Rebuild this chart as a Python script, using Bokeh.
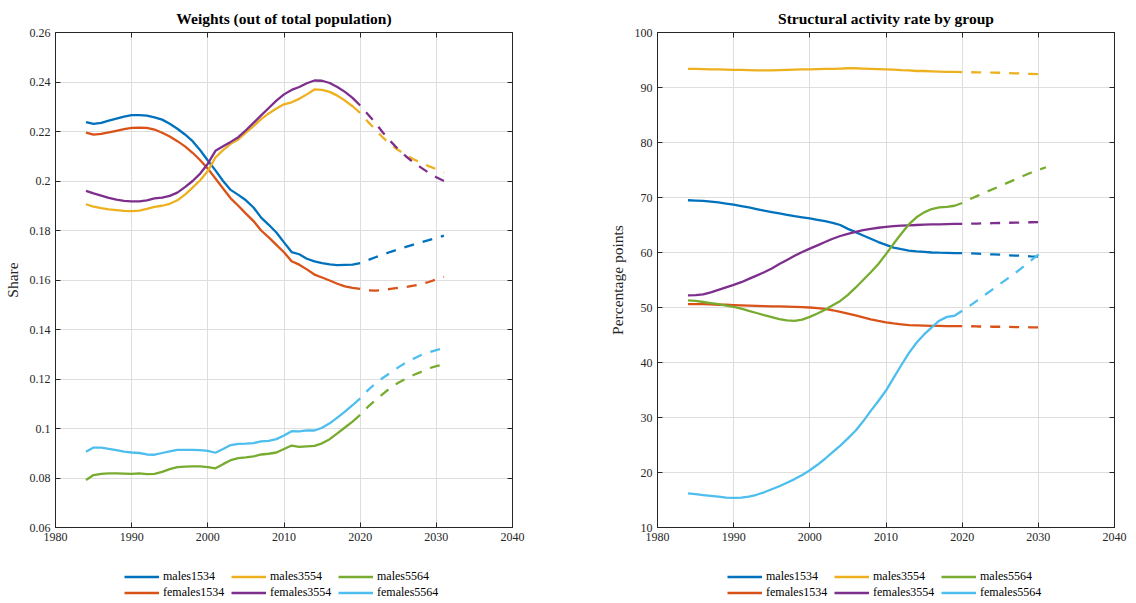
from bokeh.plotting import figure
from bokeh.layouts import row, column
from bokeh.models import (FixedTicker, LinearAxis, Legend, LegendItem, Range1d,
                          CustomJSTickFormatter)
from bokeh.embed import file_html
from bokeh.resources import INLINE

# ---------------- data ----------------
years_hist = list(range(1984, 2021))
years_proj = list(range(2020, 2032))

series_names = ["males1534", "females1534", "males3554", "females3554", "males5564", "females5564"]
series_colors = ["#0072BD", "#D95319", "#EDB120", "#7E2F8E", "#77AC30", "#4DBEEE"]

# Left panel: weights (share of total population)
w_males1534 = [0.2238, 0.2231, 0.2235, 0.2244, 0.2252, 0.2260, 0.2266, 0.2266, 0.2264, 0.2257,
               0.2248, 0.2231, 0.2211, 0.2188, 0.2161, 0.2124, 0.2083, 0.2043, 0.2000, 0.1964,
               0.1944, 0.1922, 0.1893, 0.1852, 0.1823, 0.1792, 0.1752, 0.1713, 0.1704, 0.1686,
               0.1675, 0.1668, 0.1663, 0.1660, 0.1661, 0.1662, 0.1668]
w_males1534_p = [0.1668, 0.1680, 0.1692, 0.1703, 0.1714, 0.1724, 0.1734, 0.1743, 0.1752, 0.1761, 0.1770, 0.1779]

w_females1534 = [0.2195, 0.2187, 0.2190, 0.2196, 0.2203, 0.2210, 0.2215, 0.2216, 0.2215, 0.2208,
                 0.2195, 0.2180, 0.2161, 0.2140, 0.2114, 0.2084, 0.2050, 0.2010, 0.1970, 0.1930,
                 0.1900, 0.1868, 0.1838, 0.1800, 0.1772, 0.1742, 0.1712, 0.1676, 0.1662, 0.1643,
                 0.1622, 0.1610, 0.1598, 0.1585, 0.1574, 0.1568, 0.1564]
w_females1534_p = [0.1564, 0.1558, 0.1557, 0.1560, 0.1564, 0.1568, 0.1572, 0.1577, 0.1583, 0.1592, 0.1602, 0.1613]

w_males3554 = [0.1906, 0.1896, 0.1890, 0.1885, 0.1882, 0.1879, 0.1878, 0.1880, 0.1887, 0.1895,
               0.1900, 0.1908, 0.1922, 0.1945, 0.1973, 0.2003, 0.2040, 0.2095, 0.2125, 0.2150,
               0.2168, 0.2195, 0.2222, 0.2250, 0.2273, 0.2293, 0.2310, 0.2318, 0.2332, 0.2350,
               0.2370, 0.2368, 0.2360, 0.2345, 0.2325, 0.2302, 0.2275]
w_males3554_p = [0.2275, 0.2240, 0.2208, 0.2175, 0.2148, 0.2125, 0.2105, 0.2088, 0.2073, 0.2060, 0.2048, 0.2034]

w_females3554 = [0.1960, 0.1950, 0.1941, 0.1932, 0.1925, 0.1920, 0.1918, 0.1918, 0.1922, 0.1930,
                 0.1933, 0.1940, 0.1953, 0.1975, 0.2000, 0.2030, 0.2070, 0.2122, 0.2140, 0.2158,
                 0.2177, 0.2205, 0.2235, 0.2265, 0.2295, 0.2325, 0.2350, 0.2368, 0.2380, 0.2395,
                 0.2406, 0.2405, 0.2396, 0.2380, 0.2360, 0.2336, 0.2305]
w_females3554_p = [0.2305, 0.2270, 0.2235, 0.2195, 0.2160, 0.2128, 0.2100, 0.2075, 0.2054, 0.2033, 0.2015, 0.2000]

w_males5564 = [0.0792, 0.0812, 0.0817, 0.0819, 0.0819, 0.0818, 0.0817, 0.0819, 0.0816, 0.0817,
               0.0825, 0.0836, 0.0844, 0.0846, 0.0847, 0.0847, 0.0844, 0.0839, 0.0856, 0.0872,
               0.0880, 0.0883, 0.0887, 0.0895, 0.0898, 0.0903, 0.0917, 0.0931, 0.0926, 0.0928,
               0.0930, 0.0940, 0.0957, 0.0980, 0.1004, 0.1028, 0.1055]
w_males5564_p = [0.1055, 0.1087, 0.1114, 0.1140, 0.1165, 0.1185, 0.1201, 0.1216, 0.1229, 0.1243, 0.1252, 0.1259]

w_females5564 = [0.0906, 0.0923, 0.0923, 0.0918, 0.0913, 0.0907, 0.0903, 0.0901, 0.0895, 0.0894,
                 0.0901, 0.0908, 0.0914, 0.0914, 0.0914, 0.0913, 0.0910, 0.0902, 0.0917, 0.0933,
                 0.0938, 0.0939, 0.0941, 0.0948, 0.0950, 0.0957, 0.0972, 0.0989, 0.0988, 0.0992,
                 0.0992, 0.1003, 0.1021, 0.1044, 0.1068, 0.1094, 0.1122]
w_females5564_p = [0.1122, 0.1154, 0.1182, 0.1205, 0.1225, 0.1247, 0.1266, 0.1282, 0.1297, 0.1308, 0.1317, 0.1325]

# Right panel: structural activity rate (percentage points)
a_males1534 = [69.5, 69.45, 69.4, 69.25, 69.1, 68.9, 68.7, 68.45, 68.2, 67.9,
               67.6, 67.35, 67.1, 66.85, 66.6, 66.4, 66.2, 65.95, 65.7, 65.4,
               65.0, 64.3, 63.7, 63.1, 62.5, 61.9, 61.4, 60.9, 60.6, 60.35,
               60.2, 60.1, 60.0, 59.97, 59.95, 59.9, 59.9]
a_males1534_p = [59.9, 59.85, 59.8, 59.7, 59.65, 59.6, 59.5, 59.45, 59.4, 59.3, 59.25, 59.2]

a_females1534 = [50.6, 50.6, 50.6, 50.55, 50.5, 50.5, 50.45, 50.4, 50.35, 50.3,
                 50.25, 50.2, 50.2, 50.15, 50.1, 50.05, 50.0, 49.9, 49.75, 49.5,
                 49.2, 48.9, 48.55, 48.2, 47.85, 47.55, 47.3, 47.1, 46.95, 46.8,
                 46.75, 46.7, 46.65, 46.65, 46.6, 46.6, 46.6]
a_females1534_p = [46.6, 46.6, 46.55, 46.55, 46.5, 46.5, 46.5, 46.45, 46.45, 46.4, 46.4, 46.4]

a_males3554 = [93.4, 93.4, 93.35, 93.3, 93.3, 93.25, 93.2, 93.2, 93.15, 93.1,
               93.1, 93.1, 93.15, 93.2, 93.25, 93.3, 93.3, 93.35, 93.4, 93.4,
               93.45, 93.5, 93.5, 93.45, 93.4, 93.35, 93.3, 93.25, 93.15, 93.1,
               93.0, 93.0, 92.95, 92.9, 92.85, 92.85, 92.8]
a_males3554_p = [92.8, 92.78, 92.75, 92.72, 92.7, 92.68, 92.62, 92.58, 92.52, 92.48, 92.42, 92.38]

a_females3554 = [52.2, 52.25, 52.4, 52.75, 53.2, 53.65, 54.1, 54.6, 55.2, 55.8,
                 56.4, 57.1, 57.9, 58.65, 59.4, 60.1, 60.7, 61.3, 61.9, 62.5,
                 63.0, 63.4, 63.75, 64.05, 64.3, 64.5, 64.65, 64.8, 64.9, 64.95,
                 65.0, 65.05, 65.1, 65.1, 65.15, 65.2, 65.2]
a_females3554_p = [65.2, 65.23, 65.26, 65.3, 65.33, 65.36, 65.4, 65.43, 65.46, 65.5, 65.53, 65.55]

a_males5564 = [51.3, 51.2, 51.0, 50.8, 50.6, 50.35, 50.1, 49.8, 49.4, 49.0,
               48.6, 48.25, 47.9, 47.65, 47.55, 47.8, 48.3, 48.9, 49.6, 50.4,
               51.2, 52.3, 53.6, 55.0, 56.4, 57.9, 59.7, 61.6, 63.4, 65.1,
               66.4, 67.3, 67.9, 68.2, 68.3, 68.5, 69.0]
a_males5564_p = [69.0, 69.7, 70.3, 70.9, 71.5, 72.1, 72.7, 73.3, 73.9, 74.5, 75.0, 75.5]

a_females5564 = [16.2, 16.05, 15.9, 15.75, 15.6, 15.45, 15.4, 15.45, 15.6, 15.95,
                 16.4, 16.95, 17.5, 18.15, 18.8, 19.55, 20.4, 21.4, 22.5, 23.7,
                 24.9, 26.2, 27.6, 29.3, 31.2, 33.0, 34.9, 37.2, 39.5, 41.7,
                 43.6, 45.1, 46.4, 47.6, 48.3, 48.5, 49.4]
a_females5564_p = [49.4, 50.3, 51.3, 52.3, 53.3, 54.3, 55.3, 56.3, 57.4, 58.5, 59.6, 60.6]

x_ticks = [1980, 1990, 2000, 2010, 2020, 2030, 2040]
w_ticks = [0.06, 0.08, 0.10, 0.12, 0.14, 0.16, 0.18, 0.20, 0.22, 0.24, 0.26]
a_ticks = [10, 20, 30, 40, 50, 60, 70, 80, 90, 100]

w_hist = [w_males1534, w_females1534, w_males3554, w_females3554, w_males5564, w_females5564]
w_proj = [w_males1534_p, w_females1534_p, w_males3554_p, w_females3554_p, w_males5564_p, w_females5564_p]
a_hist = [a_males1534, a_females1534, a_males3554, a_females3554, a_males5564, a_females5564]
a_proj = [a_males1534_p, a_females1534_p, a_males3554_p, a_females3554_p, a_males5564_p, a_females5564_p]

# ---------------- styling ----------------
FONT = "Liberation Serif"
AX = "#262626"
GRID = "#dedede"
LW = 2.3
FIG_W = 568
MAIN_BOTTOM = 25
LEG_H = 51


def make_panel(title, ylabel, yr, yticks, hist, proj, left_b, right_b, fmt_code):
    p = figure(frame_width=457, frame_height=495, min_border_left=left_b,
               min_border_right=right_b, min_border_top=32, min_border_bottom=MAIN_BOTTOM,
               x_range=Range1d(1980, 2040), y_range=Range1d(*yr),
               output_backend="svg", toolbar_location=None, title=title)
    p.title.text_font = FONT
    p.title.text_font_size = "15.5px"
    p.title.text_font_style = "bold"
    p.title.text_color = "#000000"
    p.title.align = "center"
    p.title.standoff = 12
    p.outline_line_color = AX
    p.outline_line_alpha = 1.0
    p.background_fill_color = "white"
    p.border_fill_color = "white"

    for ax in (p.xaxis[0], p.yaxis[0]):
        ax.major_tick_in = 5
        ax.major_tick_out = 0
        ax.minor_tick_in = 0
        ax.minor_tick_out = 0
        ax.axis_line_color = AX
        ax.major_tick_line_color = AX
        ax.major_label_text_font = FONT
        ax.major_label_text_font_size = "12px"
        ax.major_label_text_color = AX
        ax.major_label_standoff = 5
        ax.axis_label_text_font = FONT
        ax.axis_label_text_font_size = "15.5px"
        ax.axis_label_text_font_style = "normal"
        ax.axis_label_text_color = AX
    p.xaxis[0].ticker = FixedTicker(ticks=x_ticks)
    p.yaxis[0].ticker = FixedTicker(ticks=yticks)
    p.yaxis[0].axis_label = ylabel
    p.yaxis[0].axis_label_standoff = 6
    if fmt_code:
        p.yaxis[0].formatter = CustomJSTickFormatter(code=fmt_code)

    for loc, tk in (("above", x_ticks), ("right", yticks)):
        ax2 = LinearAxis(ticker=FixedTicker(ticks=tk), major_label_text_font_size="1px",
                         major_label_text_color=None,
                         major_tick_in=5, major_tick_out=0, minor_tick_in=0, minor_tick_out=0,
                         axis_line_color=AX, major_tick_line_color=AX, major_label_standoff=0)
        p.add_layout(ax2, loc)

    p.xgrid.ticker = FixedTicker(ticks=x_ticks)
    p.ygrid.ticker = FixedTicker(ticks=yticks)
    p.xgrid.grid_line_color = GRID
    p.ygrid.grid_line_color = GRID

    for vals, pvals, col in zip(hist, proj, series_colors):
        p.line(years_hist, vals, line_color=col, line_width=LW)
        p.line(years_proj, pvals, line_color=col, line_width=LW, line_dash="10 9",
               line_dash_offset=10)
    return p


def make_legend_fig(hist, x_off):
    # legend strip under each panel; its view range lies away from the data,
    # so only the legend itself shows
    lf = figure(width=FIG_W, height=LEG_H, min_border=0, x_range=Range1d(0, 1),
                y_range=Range1d(0, 1), x_axis_type=None, y_axis_type=None,
                output_backend="svg", toolbar_location=None)
    lf.outline_line_color = None
    lf.grid.visible = False
    lf.background_fill_color = "white"
    lf.border_fill_color = "white"
    rends = [lf.line(years_hist, vals, line_color=c, line_width=LW)
             for vals, c in zip(hist, series_colors)]
    order = [0, 2, 4, 1, 3, 5]
    items = [LegendItem(label=series_names[i], renderers=[rends[i]]) for i in order]
    leg = Legend(items=items, orientation="horizontal", ncols=3, location=(x_off, 3),
                 border_line_color=None, background_fill_alpha=0,
                 label_text_font=FONT, label_text_font_size="12px", label_text_color="#000000",
                 glyph_width=35, glyph_height=13, label_height=13, label_width=67,
                 label_standoff=4, spacing=1, padding=0, margin=0)
    lf.add_layout(leg, "center")
    return lf


fmt = "var s = tick.toFixed(2); s = s.replace(/0+$/, ''); return s;"
p1 = make_panel("Weights (out of total population)", "Share", (0.06, 0.26), w_ticks,
                w_hist, w_proj, 55, 56, fmt)
p2 = make_panel("Structural activity rate by group", "Percentage points", (10, 100), a_ticks,
                a_hist, a_proj, 89, 22, None)
l1 = make_legend_fig(w_hist, 69)
l2 = make_legend_fig(a_hist, 70)

layout = row(column(p1, l1, spacing=0), column(p2, l2, spacing=0), spacing=0)
open("out.html", "w").write(file_html(layout, INLINE))
